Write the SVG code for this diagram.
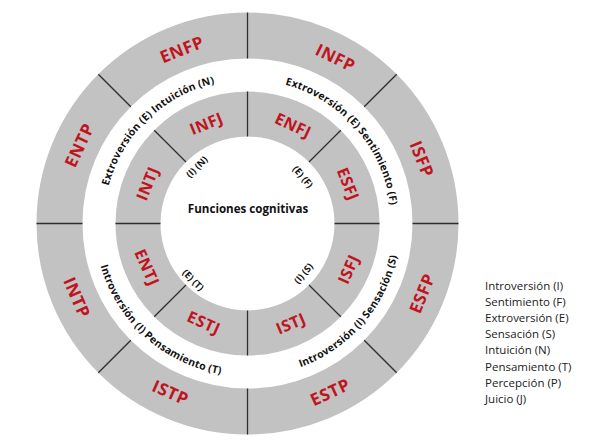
<svg xmlns="http://www.w3.org/2000/svg" xmlns:xlink="http://www.w3.org/1999/xlink" width="598" height="443" viewBox="0 0 598 443">
<style>
.sec{fill:#c2c2c2;stroke:none}
.div{stroke:#2e2e2e;stroke-width:1.3;fill:none}
.t1{font-family:"Open Sans","Liberation Sans",sans-serif;font-weight:bold;font-size:17px;fill:#c0141e;text-anchor:middle;dominant-baseline:central;letter-spacing:0.6px}
.t2{font-family:"Open Sans","Liberation Sans",sans-serif;font-weight:bold;font-size:16px;fill:#c0141e;text-anchor:middle;dominant-baseline:central;letter-spacing:0.5px}
.rl{font-family:"Open Sans","Liberation Sans",sans-serif;font-weight:bold;font-size:10.4px;fill:#111;letter-spacing:0.2px}
.sm{font-family:"Open Sans","Liberation Sans",sans-serif;font-weight:bold;font-size:9.4px;fill:#111;text-anchor:middle;dominant-baseline:central}
.ct{font-family:"Open Sans","Liberation Sans",sans-serif;font-weight:bold;font-size:11.6px;fill:#111;text-anchor:middle;dominant-baseline:central}
.lg{font-family:"Open Sans","Liberation Sans",sans-serif;font-size:11.5px;fill:#222}
</style>
<defs>
<path id="arcTL" d="M128.1,304.0 A144,144 0 0,1 332.1,107.0"/>
<path id="arcTR" d="M173.3,100.1 A144,144 0 0,1 359.4,314.1"/>
<path id="arcBL" d="M117.8,142.4 A153,153 0 0,0 341.7,344.1"/>
<path id="arcBR" d="M168.7,354.7 A153,153 0 0,0 366.4,127.2"/>
</defs>
<rect width="598" height="443" fill="#fff"/>

<g id="outer-ring">
<g id="ENFP"><path class="sec" d="M98.3,74.3 A211,211 0 0 1 247.5,12.5 L247.5,58.5 A165,165 0 0 0 130.8,106.8 Z"/><text class="t1" transform="translate(181.7,49) rotate(-22)">ENFP</text></g>
<g id="INFP"><path class="sec" d="M247.5,12.5 A211,211 0 0 1 396.7,74.3 L364.2,106.8 A165,165 0 0 0 247.5,58.5 Z"/><text class="t1" transform="translate(335.7,57.3) rotate(26)">INFP</text></g>
<g id="ISFP"><path class="sec" d="M396.7,74.3 A211,211 0 0 1 458.5,223.5 L412.5,223.5 A165,165 0 0 0 364.2,106.8 Z"/><text class="t1" transform="translate(422.3,159) rotate(68)">ISFP</text></g>
<g id="ESFP"><path class="sec" d="M458.5,223.5 A211,211 0 0 1 396.7,372.7 L364.2,340.2 A165,165 0 0 0 412.5,223.5 Z"/><text class="t1" transform="translate(421.7,293.3) rotate(-68)">ESFP</text></g>
<g id="ESTP"><path class="sec" d="M396.7,372.7 A211,211 0 0 1 247.5,434.5 L247.5,388.5 A165,165 0 0 0 364.2,340.2 Z"/><text class="t1" transform="translate(330,391.7) rotate(-25)">ESTP</text></g>
<g id="ISTP"><path class="sec" d="M247.5,434.5 A211,211 0 0 1 98.3,372.7 L130.8,340.2 A165,165 0 0 0 247.5,388.5 Z"/><text class="t1" transform="translate(170.7,392.3) rotate(24)">ISTP</text></g>
<g id="INTP"><path class="sec" d="M98.3,372.7 A211,211 0 0 1 36.5,223.5 L82.5,223.5 A165,165 0 0 0 130.8,340.2 Z"/><text class="t1" transform="translate(77.3,297.3) rotate(66.5)">INTP</text></g>
<g id="ENTP"><path class="sec" d="M36.5,223.5 A211,211 0 0 1 98.3,74.3 L130.8,106.8 A165,165 0 0 0 82.5,223.5 Z"/><text class="t1" transform="translate(79,145) rotate(-65)">ENTP</text></g>
</g>

<g id="middle-ring">
<g id="INFJ"><path class="sec" d="M154.2,130.2 A132,132 0 0 1 247.5,91.5 L247.5,136.5 A87,87 0 0 0 186,162 Z"/><text class="t2" transform="translate(206.3,123.3) rotate(-22)">INFJ</text></g>
<g id="ENFJ"><path class="sec" d="M247.5,91.5 A132,132 0 0 1 340.8,130.2 L309,162 A87,87 0 0 0 247.5,136.5 Z"/><text class="t2" transform="translate(293.3,125) rotate(25)">ENFJ</text></g>
<g id="ESFJ"><path class="sec" d="M340.8,130.2 A132,132 0 0 1 379.5,223.5 L334.5,223.5 A87,87 0 0 0 309,162 Z"/><text class="t2" transform="translate(348.3,184) rotate(68)">ESFJ</text></g>
<g id="ISFJ"><path class="sec" d="M379.5,223.5 A132,132 0 0 1 340.8,316.8 L309,285 A87,87 0 0 0 334.5,223.5 Z"/><text class="t2" transform="translate(348.3,269) rotate(-66)">ISFJ</text></g>
<g id="ISTJ"><path class="sec" d="M340.8,316.8 A132,132 0 0 1 247.5,355.5 L247.5,310.5 A87,87 0 0 0 309,285 Z"/><text class="t2" transform="translate(290.7,323.3) rotate(-23)">ISTJ</text></g>
<g id="ESTJ"><path class="sec" d="M247.5,355.5 A132,132 0 0 1 154.2,316.8 L186,285 A87,87 0 0 0 247.5,310.5 Z"/><text class="t2" transform="translate(204,322.3) rotate(24)">ESTJ</text></g>
<g id="ENTJ"><path class="sec" d="M154.2,316.8 A132,132 0 0 1 115.5,223.5 L160.5,223.5 A87,87 0 0 0 186,285 Z"/><text class="t2" transform="translate(147.3,267.3) rotate(66)">ENTJ</text></g>
<g id="INTJ"><path class="sec" d="M115.5,223.5 A132,132 0 0 1 154.2,130.2 L186,162 A87,87 0 0 0 160.5,223.5 Z"/><text class="t2" transform="translate(147.3,183.3) rotate(-68)">INTJ</text></g>
</g>

<g id="connectors">
<path class="div" d="M247.5,12.5 L247.5,58.5 M396.7,74.3 L364.2,106.8 M458.5,223.5 L412.5,223.5 M396.7,372.7 L364.2,340.2 M247.5,434.5 L247.5,388.5 M98.3,372.7 L130.8,340.2 M36.5,223.5 L82.5,223.5 M98.3,74.3 L130.8,106.8"/>
<path class="div" d="M247.5,91.5 L247.5,136.5 M340.8,130.2 L309,162 M379.5,223.5 L334.5,223.5 M340.8,316.8 L309,285 M247.5,355.5 L247.5,310.5 M154.2,316.8 L186,285 M115.5,223.5 L160.5,223.5 M154.2,130.2 L186,162"/>
</g>

<g id="ring-labels">
<text class="rl"><textPath xlink:href="#arcTL" href="#arcTL" startOffset="50%" text-anchor="middle">Extroversión (E) Intuición (N)</textPath></text>
<text class="rl"><textPath xlink:href="#arcTR" href="#arcTR" startOffset="50%" text-anchor="middle">Extroversión (E) Sentimiento (F)</textPath></text>
<text class="rl"><textPath xlink:href="#arcBL" href="#arcBL" startOffset="50%" text-anchor="middle">Introversión (I) Pensamiento (T)</textPath></text>
<text class="rl"><textPath xlink:href="#arcBR" href="#arcBR" startOffset="50%" text-anchor="middle">Introversión (I) Sensación (S)</textPath></text>
</g>

<g id="center">
<text class="ct" x="248" y="208">Funciones cognitivas</text>
<text class="sm" transform="translate(196.7,166.7) rotate(-45)">(I) (N)</text>
<text class="sm" transform="translate(303,176.7) rotate(50)">(E) (F)</text>
<text class="sm" transform="translate(193.3,280) rotate(45)">(E) (T)</text>
<text class="sm" transform="translate(303.3,273.3) rotate(-50)">(I) (S)</text>
</g>

<g id="legend">
<text class="lg" x="485" y="289.5">Introversión (I)</text>
<text class="lg" x="485" y="305.7">Sentimiento (F)</text>
<text class="lg" x="485" y="321.9">Extroversión (E)</text>
<text class="lg" x="485" y="338.1">Sensación (S)</text>
<text class="lg" x="485" y="354.3">Intuición (N)</text>
<text class="lg" x="485" y="370.5">Pensamiento (T)</text>
<text class="lg" x="485" y="386.7">Percepción (P)</text>
<text class="lg" x="485" y="402.9">Juicio (J)</text>
</g>
</svg>
